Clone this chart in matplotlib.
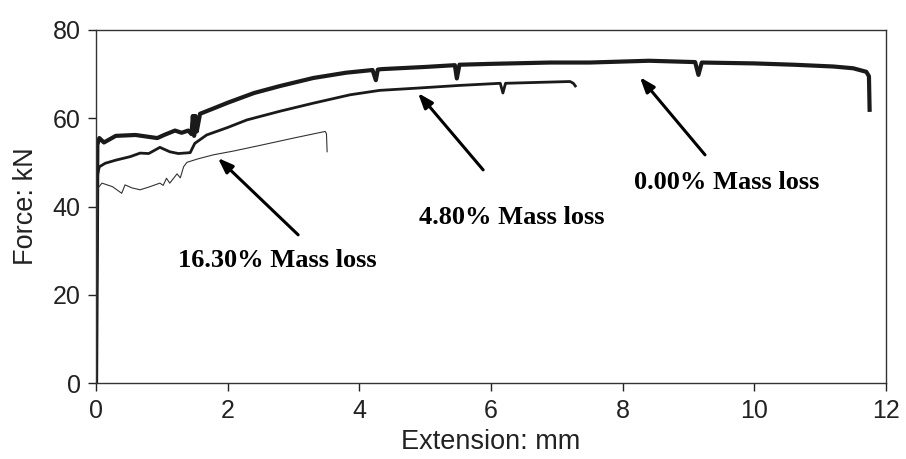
import numpy as np
import matplotlib.pyplot as plt

# force-extension readings, three corrosion levels
x_000 = [0.0, 0.02, 0.05, 0.12, 0.3, 0.6, 0.93, 1.05, 1.2, 1.3, 1.4, 1.45, 1.47, 1.49, 1.51,
         1.53, 1.58, 1.8, 2.0, 2.4, 2.8, 3.3, 3.8, 4.2, 4.25, 4.28, 4.33, 5.0, 5.45, 5.48,
         5.52, 6.0, 6.9, 7.5, 8.4, 9.1, 9.15, 9.2, 10.0, 10.6, 11.2, 11.5, 11.7, 11.74, 11.75]
y_000 = [0.0, 54.0, 55.5, 54.5, 56.0, 56.2, 55.5, 56.3, 57.2, 56.7, 57.2, 56.4, 60.5, 56.0, 60.5,
         57.0, 61.0, 62.3, 63.5, 65.7, 67.3, 69.1, 70.3, 70.9, 68.6, 71.0, 71.1, 71.6, 72.0, 69.0,
         72.1, 72.3, 72.6, 72.6, 73.0, 72.7, 69.8, 72.6, 72.4, 72.1, 71.7, 71.3, 70.5, 69.5, 61.9]

x_480 = [0.0, 0.02, 0.05, 0.14, 0.3, 0.52, 0.67, 0.8, 0.97, 1.12, 1.25, 1.43, 1.5, 1.68,
         2.0, 2.29, 2.8, 3.3, 3.86, 4.31, 4.87, 5.5, 6.14, 6.18, 6.22, 6.7, 7.2, 7.25, 7.28]
y_480 = [0.0, 47.0, 49.0, 49.8, 50.5, 51.3, 52.1, 52.0, 53.4, 52.4, 52.0, 52.2, 54.3, 56.2,
         57.9, 59.6, 61.6, 63.4, 65.3, 66.3, 66.8, 67.4, 67.9, 65.7, 67.9, 68.1, 68.3, 67.9, 67.3]

x_1630 = [0.0, 0.02, 0.09, 0.25, 0.39, 0.44, 0.55, 0.67, 0.8, 0.97, 1.02, 1.07, 1.12, 1.23,
          1.28, 1.33, 1.38, 1.55, 1.78, 2.1, 2.54, 3.0, 3.48, 3.5, 3.51]
y_1630 = [0.0, 44.0, 45.3, 44.5, 43.0, 44.9, 44.2, 43.8, 44.4, 45.3, 44.8, 46.4, 45.3, 47.4,
          46.5, 49.0, 50.0, 50.8, 51.7, 52.6, 54.0, 55.5, 57.0, 56.5, 52.4]

labels = ["0.00% Mass loss", "4.80% Mass loss", "16.30% Mass loss"]
label_xy = [(9.58, 45.4), (6.32, 37.6), (2.76, 27.9)]
arrow_tip = [(8.26, 69.3), (4.89, 65.7), (1.85, 51.0)]
arrow_tail = [(9.25, 51.7), (5.88, 48.3), (3.07, 33.6)]

fig = plt.figure(figsize=(9.06, 4.59), dpi=100)
ax = fig.add_axes([0.106, 0.165, 0.872, 0.770])

ax.plot(x_000, y_000, color="#1a1a1a", lw=3.0, solid_joinstyle="round")
ax.plot(x_480, y_480, color="#1a1a1a", lw=2.0, solid_joinstyle="round")
ax.plot(x_1630, y_1630, color="#333333", lw=0.8)

for txt, pos, tip, tail in zip(labels, label_xy, arrow_tip, arrow_tail):
    ax.annotate("", xy=tip, xytext=tail,
                arrowprops=dict(arrowstyle="-|>,head_length=0.9,head_width=0.33",
                                color="black", lw=2.2, shrinkA=0, shrinkB=0))
    ax.text(pos[0], pos[1], txt, ha="center", va="center", fontsize=19,
            fontweight="bold", family="Liberation Serif")

ax.set_xlim(0, 12)
ax.set_ylim(0, 80)
ax.set_xticks(np.arange(0, 13, 2))
ax.set_yticks(np.arange(0, 81, 20))
ax.tick_params(direction="out", length=6, width=1, labelsize=18, colors="#222222", pad=5)
for s in ax.spines.values():
    s.set_linewidth(1.0)
    s.set_color("#333333")

ax.set_xlabel("Extension: mm", fontsize=19.5, family="Liberation Sans", color="#222222",
              labelpad=5)
ax.set_ylabel("Force: kN", fontsize=19.5, family="Liberation Sans", color="#222222",
              labelpad=10)
for lbl in ax.get_xticklabels() + ax.get_yticklabels():
    lbl.set_family("Liberation Sans")

fig.savefig("out.png", dpi=100)
